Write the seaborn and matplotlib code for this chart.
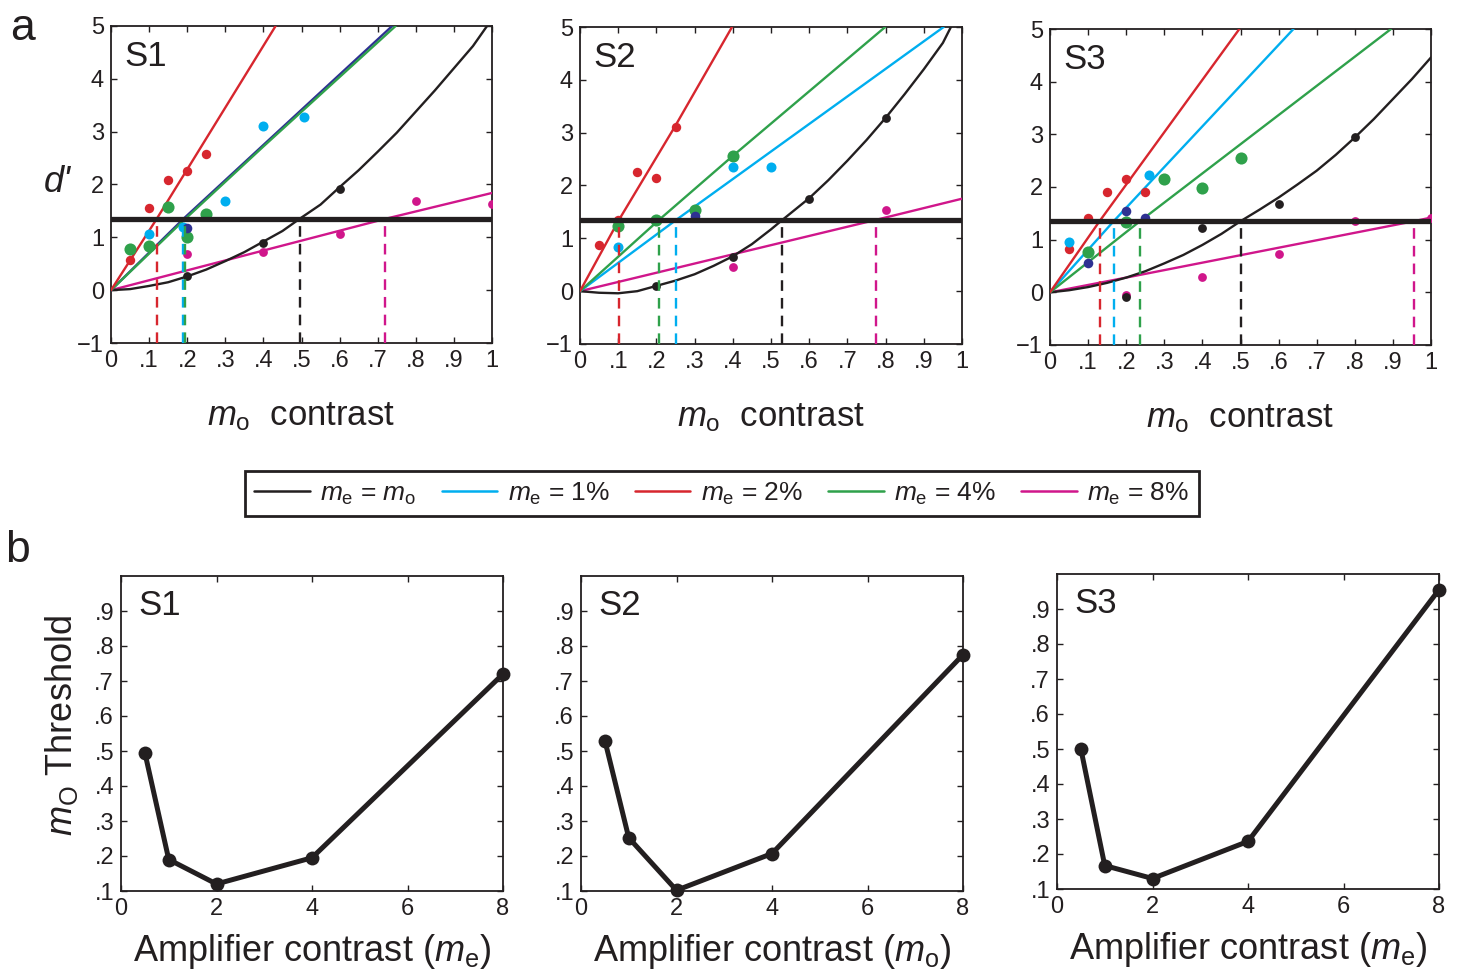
import matplotlib
matplotlib.use("Agg")
import matplotlib.pyplot as plt
import numpy as np
import pandas as pd
import seaborn as sns
from matplotlib.lines import Line2D

# ---------------------------------------------------------------- data
subjects = ["S1", "S2", "S3"]
conditions = ["mo", "1%", "2%", "4%", "8%"]
amplifier_contrast = [0.5, 1, 2, 4, 8]   # x of panel b (me = mo plotted at 0.5)
criterion_dprime = 1.35

# m_o thresholds per condition (order of `conditions`)
thr_s1 = [0.495, 0.19, 0.12, 0.195, 0.72]
thr_s2 = [0.53, 0.252, 0.102, 0.207, 0.775]
thr_s3 = [0.50, 0.167, 0.13, 0.236, 0.955]

# fitted d' curves: condition -> (m_o values, d' values)
fit_s1 = {
    "mo": ([0, .05, .1, .15, .2, .25, .3, .35, .4, .45, .495, .55, .6, .65, .7,
            .75, .8, .85, .9, .95, .987],
           [0, .02, .08, .15, .26, .39, .55, .72, .92, 1.12, 1.35, 1.62, 1.95,
            2.27, 2.62, 2.98, 3.38, 3.78, 4.2, 4.62, 5.0]),
    "1%": ([0, .19, .738], [0, 1.35, 5.0]),
    "2%": ([0, .12, .432], [0, 1.35, 5.0]),
    "4%": ([0, .195, .4, .747], [0, 1.35, 2.72, 5.0]),
    "8%": ([0, .72, 1.0], [0, 1.35, 1.84]),
}
fit_s2 = {
    "mo": ([0, .05, .1, .15, .2, .25, .3, .35, .4, .45, .5, .53, .6, .65, .7,
            .75, .8, .85, .9, .95, .971],
           [0, -.03, -.04, 0, .1, .2, .32, .48, .66, .89, 1.17, 1.35, 1.76,
            2.1, 2.47, 2.86, 3.28, 3.73, 4.2, 4.7, 5.0]),
    "1%": ([0, .252, .952], [0, 1.35, 5.0]),
    "2%": ([0, .102, .248, .398], [0, 1.35, 3.11, 5.0]),
    "4%": ([0, .207, .4, .799], [0, 1.35, 2.56, 5.0]),
    "8%": ([0, .775, 1.0], [0, 1.35, 1.75]),
}
fit_s3 = {
    "mo": ([0, .05, .1, .15, .2, .25, .3, .35, .4, .45, .5, .55, .6, .65, .7,
            .75, .8, .85, .9, .95, 1.0],
           [0, .04, .1, .18, .28, .4, .55, .71, .9, 1.11, 1.35, 1.57, 1.8,
            2.05, 2.31, 2.61, 2.94, 3.29, 3.67, 4.05, 4.46]),
    "1%": ([0, .167, .639], [0, 1.35, 5.0]),
    "2%": ([0, .13, .497], [0, 1.35, 5.0]),
    "4%": ([0, .236, .895], [0, 1.35, 5.0]),
    "8%": ([0, .2, .955, 1.0], [0, .28, 1.35, 1.42]),
}

# measured d' values: condition -> (m_o values, d' values)
pts_s1 = {
    "mo": ([.2, .4, .6], [.26, .9, 1.92]),
    "1%": ([.1, .19, .3, .4, .507], [1.06, 1.2, 1.69, 3.11, 3.28]),
    "2%": ([.05, .1, .15, .2, .25], [.57, 1.55, 2.08, 2.26, 2.58]),
    "4%": ([.05, .1, .15, .2, .25], [.77, .84, 1.58, 1.0, 1.44]),
    "8%": ([.2, .4, .6, .8, 1.0], [.68, .72, 1.06, 1.69, 1.63]),
    "nv": ([.2], [1.17]),
}
pts_s2 = {
    "mo": ([.2, .4, .6, .8], [.10, .65, 1.75, 3.28]),
    "1%": ([.1, .4, .5], [.83, 2.35, 2.35]),
    "2%": ([.05, .1, .15, .2, .25], [.88, 1.35, 2.25, 2.14, 3.11]),
    "4%": ([.1, .2, .3, .4], [1.23, 1.35, 1.54, 2.56]),
    "8%": ([.4, .8], [.46, 1.54]),
    "nv": ([.3], [1.42]),
}
pts_s3 = {
    "mo": ([.2, .4, .6, .8], [-.09, 1.22, 1.68, 2.94]),
    "1%": ([.05, .26], [.95, 2.23]),
    "2%": ([.05, .1, .15, .2, .25], [.82, 1.41, 1.91, 2.15, 1.91]),
    "4%": ([.1, .2, .3, .4, .5], [.77, 1.34, 2.15, 1.98, 2.56]),
    "8%": ([.2, .4, .6, .8, 1.0], [-.05, .30, .72, 1.35, 1.41]),
    "nv": ([.1, .2, .25], [.56, 1.54, 1.41]),
}

top_xticks = [0, .1, .2, .3, .4, .5, .6, .7, .8, .9, 1]
top_xticklabels = ["0", ".1", ".2", ".3", ".4", ".5", ".6", ".7", ".8", ".9", "1"]
top_yticks = [-1, 0, 1, 2, 3, 4, 5]
bot_xticks = [0, 2, 4, 6, 8]
bot_yticks = [.1, .2, .3, .4, .5, .6, .7, .8, .9]
bot_yticklabels = [".1", ".2", ".3", ".4", ".5", ".6", ".7", ".8", ".9"]
legend_labels = [r"$m_\mathrm{e}$ = $m_\mathrm{o}$", r"$m_\mathrm{e}$ = 1%",
                 r"$m_\mathrm{e}$ = 2%", r"$m_\mathrm{e}$ = 4%", r"$m_\mathrm{e}$ = 8%"]
bottom_xlabels = [r"Amplifier contrast ($m_\mathrm{e}$)",
                  r"Amplifier contrast ($m_\mathrm{o}$)",
                  r"Amplifier contrast ($m_\mathrm{e}$)"]

# ---------------------------------------------------------------- style
INK = "#231f20"
palette = {"mo": INK, "1%": "#00aeef", "2%": "#d7262e",
           "4%": "#2fa14b", "8%": "#d0168b", "nv": "#2e3192"}
dot_size = {"mo": 40, "1%": 52, "2%": 46, "4%": 76, "8%": 40, "nv": 48}

sns.set_theme(style="ticks")
plt.rcParams.update({
    "font.family": ["Liberation Sans", "DejaVu Sans"],
    "mathtext.fontset": "custom",
    "mathtext.rm": "Liberation Sans",
    "mathtext.it": "Liberation Sans:italic",
    "mathtext.bf": "Liberation Sans:bold",
    "axes.linewidth": 1.3,
    "axes.edgecolor": INK,
    "text.color": INK,
    "axes.labelcolor": INK,
    "xtick.color": INK,
    "ytick.color": INK,
    "xtick.direction": "in",
    "ytick.direction": "in",
    "xtick.top": True,
    "ytick.right": True,
    "xtick.major.size": 4,
    "ytick.major.size": 4,
    "xtick.major.width": 1.0,
    "ytick.major.width": 1.0,
})
TICK_FS = 17

fig = plt.figure(figsize=(14.58, 9.73), dpi=100)
W, H = 1458, 973


def px_axes(left, top, right, bottom):
    return fig.add_axes([left / W, 1 - bottom / H, (right - left) / W, (bottom - top) / H])


top_boxes = [(111, 26, 492, 343), (580, 27, 962, 344), (1050, 29, 1431, 345)]
bot_boxes = [(121, 576, 503, 891), (581, 576, 963, 891), (1057, 574, 1439, 889)]

fits = [fit_s1, fit_s2, fit_s3]
points = [pts_s1, pts_s2, pts_s3]
thresholds = [thr_s1, thr_s2, thr_s3]
# in S1 the 1% fit sits under the 4% fit and shows in the darker blue
fit_colour_override = [{"1%": palette["nv"]}, {}, {}]

# ---------------------------------------------------------------- panel a
for i, subj in enumerate(subjects):
    ax = px_axes(*top_boxes[i])
    fit = fits[i]
    for cond in ["8%", "mo", "1%", "4%", "2%"]:
        xs, ys = fit[cond]
        col = fit_colour_override[i].get(cond, palette[cond])
        sns.lineplot(x=xs, y=ys, ax=ax, color=col, lw=1.7, sort=False,
                     estimator=None, zorder=3)
    for cond in ["8%", "mo", "2%", "4%", "1%", "nv"]:
        xs, ys = points[i][cond]
        sns.scatterplot(x=xs, y=ys, ax=ax, color=palette[cond], s=dot_size[cond],
                        linewidth=0, zorder=4)
    # criterion line and threshold drop lines
    ax.axhline(criterion_dprime, color=INK, lw=3.8, zorder=6)
    for cond, t in zip(conditions, thresholds[i]):
        ax.vlines(t, -1, criterion_dprime, colors=palette[cond], lw=1.7,
                  linestyles=(0, (4.5, 3)), zorder=5)
    ax.set_xlim(0, 1)
    ax.set_ylim(-1, 5)
    ax.set_xticks(top_xticks)
    ax.set_xticklabels(top_xticklabels)
    ax.set_yticks(top_yticks)
    ax.tick_params(pad=5, labelsize=TICK_FS)
    ax.set_xlabel(r"$m_\mathrm{o}$  contrast", fontsize=25, labelpad=20)
    ax.set_ylabel("")
    ax.text(0.035, 0.905, subj, transform=ax.transAxes, fontsize=25,
            ha="left", va="center", zorder=7)

fig.text(57 / W, 1 - 183 / H, "d'", fontsize=26, style="italic",
         ha="center", va="center")

# ---------------------------------------------------------------- panel b
for i, subj in enumerate(subjects):
    ax = px_axes(*bot_boxes[i])
    sns.lineplot(x=amplifier_contrast, y=thresholds[i], ax=ax, color=INK,
                 lw=3.6, marker="o", markersize=10, markeredgewidth=0,
                 sort=False, estimator=None, clip_on=False, zorder=3)
    ax.set_xlim(0, 8)
    ax.set_ylim(0.1, 1.0)
    ax.set_xticks(bot_xticks)
    ax.set_yticks(bot_yticks)
    ax.set_yticklabels(bot_yticklabels)
    ax.tick_params(pad=5, labelsize=TICK_FS)
    ax.set_xlabel(bottom_xlabels[i], fontsize=26, labelpad=9)
    ax.set_ylabel("")
    ax.text(0.045, 0.905, subj, transform=ax.transAxes, fontsize=25,
            ha="left", va="center")

fig.text(62 / W, 1 - 725 / H, r"$m_\mathrm{O}$ Threshold", fontsize=26,
         rotation=90, ha="center", va="center")

# panel letters
fig.text(22 / W, 1 - 28 / H, "a", fontsize=32, ha="center", va="center")
fig.text(18 / W, 1 - 550 / H, "b", fontsize=32, ha="center", va="center")

# ---------------------------------------------------------------- legend
handles = [Line2D([0], [0], color=palette[c], lw=1.8) for c in conditions]
leg = fig.legend(handles, legend_labels, loc="center",
                 bbox_to_anchor=(722 / W, 1 - 493.5 / H), ncol=5,
                 frameon=True, fancybox=False, edgecolor=INK, framealpha=1,
                 fontsize=19, handlelength=2.1, handletextpad=0.4,
                 columnspacing=0.95, borderpad=0.35)
leg.get_frame().set_linewidth(2.0)

fig.savefig("out.png", dpi=100)
